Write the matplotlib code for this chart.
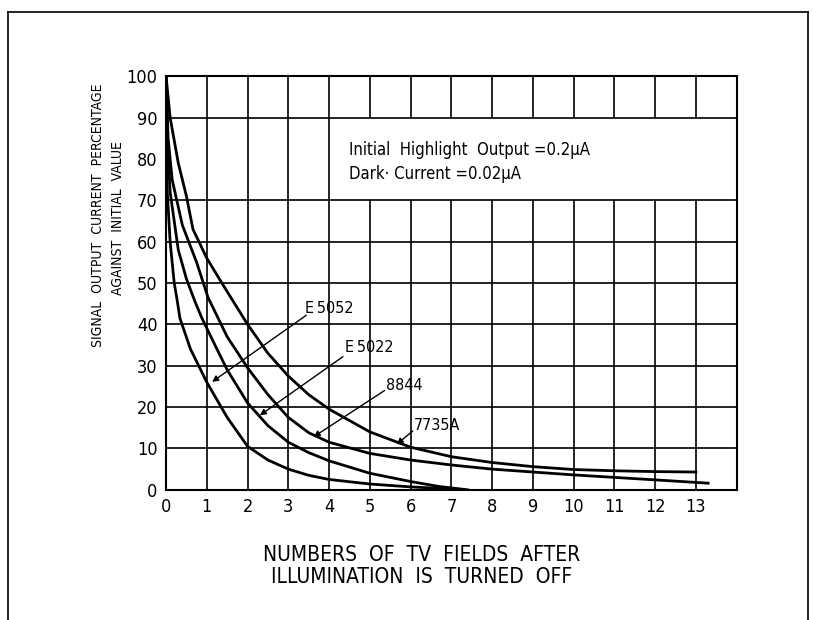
import matplotlib
matplotlib.use("Agg")
import matplotlib.pyplot as plt
from matplotlib.lines import Line2D

plt.rcParams['font.family'] = ['DejaVu Sans']
plt.rcParams['font.stretch'] = 'condensed'

# curves (x = TV fields, y = % of initial value)
x_7735a = [0, 0.1, 0.3, 0.5, 0.66, 1.0, 1.4, 2.0, 2.5, 3.0, 3.5, 4.0, 5.0, 6.0, 7.0, 8.0, 9.0, 10.0, 11.0, 12.0, 13.0]
y_7735a = [100, 90, 79, 71, 63, 56, 49.5, 40, 33, 27.5, 23, 19.5, 14, 10.3, 8.0, 6.6, 5.6, 4.9, 4.6, 4.4, 4.3]

x_8844 = [0, 0.05, 0.15, 0.4, 0.75, 1.03, 1.5, 2.0, 2.5, 3.0, 3.5, 4.0, 5.0, 6.0, 7.0, 8.0, 9.0, 10.0, 11.0, 12.0, 13.3]
y_8844 = [100, 85, 75, 64, 55, 46.5, 37, 29.5, 23, 17.5, 13.8, 11.5, 8.8, 7.2, 6.0, 5.0, 4.3, 3.6, 3.0, 2.4, 1.6]

x_e5022 = [0, 0.03, 0.1, 0.3, 0.5, 0.71, 0.88, 1.2, 1.5, 2.0, 2.5, 3.0, 3.5, 4.0, 5.0, 6.0, 6.7, 7.4]
y_e5022 = [100, 85, 72, 58, 51, 45.5, 41.5, 35, 29, 21, 15.5, 11.5, 9, 7, 4, 2, 0.8, 0]

x_e5052 = [0, 0.01, 0.03, 0.1, 0.2, 0.27, 0.34, 0.6, 1.0, 1.5, 2.0, 2.5, 3.0, 3.5, 4.0, 5.0, 6.0, 7.0]
y_e5052 = [100, 85, 72, 60, 50, 46, 41.5, 34, 26, 17.5, 10.5, 7.2, 5, 3.5, 2.5, 1.4, 0.7, 0.2]

x_ticks = list(range(0, 14))
y_ticks = [0, 10, 20, 30, 40, 50, 60, 70, 80, 90, 100]
h_grid = [10, 20, 30, 40, 50, 60, 70, 90]   # no 80 line in the original

# label text, label position, arrow start, arrow tip
labels = [
    ("E\u20095052", (3.42, 43.8), (3.44, 42.2), (1.13, 26.1)),
    ("E\u20095022", (4.38, 34.4), (4.34, 32.2), (2.30, 18.0)),
    ("8844", (5.40, 25.2), (5.36, 24.0), (3.62, 12.8)),
    ("7735A", (6.08, 15.6), (6.05, 14.2), (5.66, 11.0)),
]

fig = plt.figure(figsize=(8.14, 6.2), dpi=100)
ax = fig.add_axes([0.204, 0.21, 0.701, 0.667])

# grid drawn by hand so the text box area stays blank
ax.hlines(h_grid, 0, 14, colors='black', lw=1.2, zorder=1)
for xv in x_ticks[1:]:
    if xv >= 5:
        ax.vlines(xv, 0, 70, colors='black', lw=1.2, zorder=1)
        ax.vlines(xv, 90, 100, colors='black', lw=1.2, zorder=1)
    else:
        ax.vlines(xv, 0, 100, colors='black', lw=1.2, zorder=1)

for xs, ys in [(x_7735a, y_7735a), (x_8844, y_8844), (x_e5022, y_e5022), (x_e5052, y_e5052)]:
    ax.plot(xs, ys, color='black', lw=2.0, zorder=3, solid_joinstyle='round')

for name, tpos, start, tip in labels:
    ax.text(tpos[0], tpos[1], name, fontsize=11.5, ha='left', va='center', zorder=4)
    ax.annotate('', xy=tip, xytext=start,
                arrowprops=dict(arrowstyle='-|>', color='black', lw=1.0, mutation_scale=9,
                                shrinkA=0, shrinkB=0), zorder=4)

ax.text(4.5, 79.3, "Initial  Highlight  Output =0.2\u03bcA\nDark\u00b7 Current =0.02\u03bcA",
        fontsize=12, ha='left', va='center', linespacing=1.45)

ax.set_xlim(0, 14)
ax.set_ylim(0, 100)
ax.set_xticks(x_ticks)
ax.set_yticks(y_ticks)
ax.tick_params(length=0, labelsize=13, pad=6)
for s in ax.spines.values():
    s.set_linewidth(1.5)

fig.text(0.12, 0.653, "SIGNAL  OUTPUT  CURRENT  PERCENTAGE", rotation=90,
         ha='center', va='center', fontsize=10)
fig.text(0.145, 0.648, "AGAINST  INITIAL  VALUE", rotation=90,
         ha='center', va='center', fontsize=10)
fig.text(0.518, 0.087, "NUMBERS  OF  TV  FIELDS  AFTER\nILLUMINATION  IS  TURNED  OFF",
         ha='center', va='center', fontsize=15, linespacing=1.15)

# outer frame of the scanned figure
fig.add_artist(Line2D([8 / 814, 8 / 814], [0, 1 - 12 / 620], color='black', lw=1.2))
fig.add_artist(Line2D([8 / 814, 808 / 814], [1 - 12 / 620, 1 - 12 / 620], color='black', lw=1.2))
fig.add_artist(Line2D([808 / 814, 808 / 814], [0, 1 - 12 / 620], color='black', lw=1.2))

fig.savefig("out.png", dpi=100)
